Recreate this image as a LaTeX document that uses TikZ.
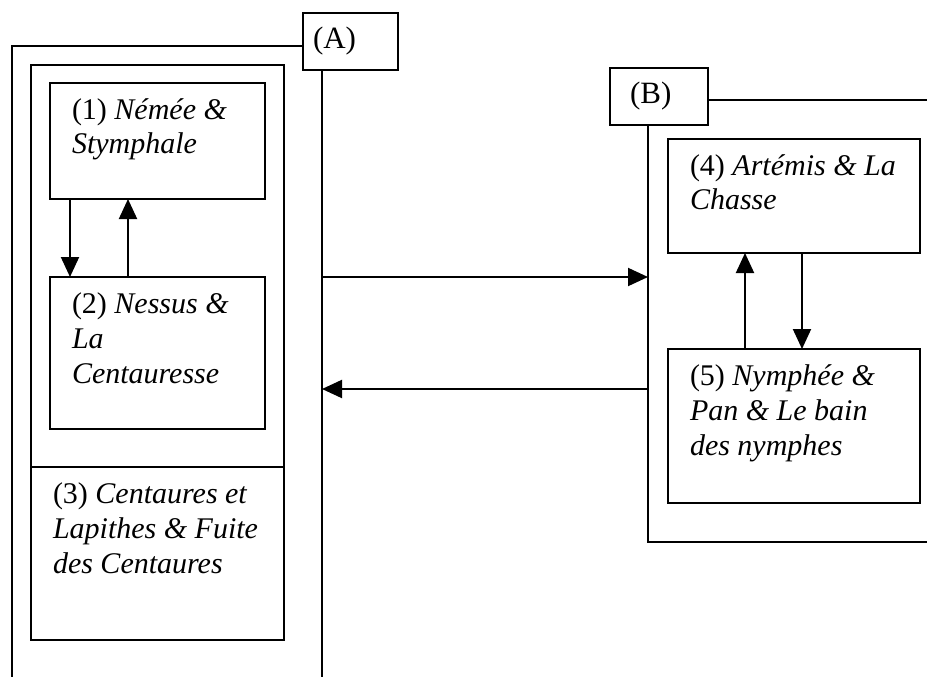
\documentclass[tikz,border=0pt]{standalone}
\usepackage{fontspec}
\setmainfont{Liberation Serif}
\usepackage{tikz}
\usetikzlibrary{arrows.meta}

\newcommand{\boxlines}[1]{\parbox[t]{300pt}{\raggedright #1}}

\begin{document}
\begin{tikzpicture}[x=1pt, y=-1pt, text=black, line width=2pt,
	box/.style={draw, anchor=north west, inner sep=0pt, outer sep=0pt},
	tag/.style={draw, fill=white, align=left, anchor=north west, inner ysep=0pt, outer sep=0pt, minimum height=57pt, font=\fontsize{31}{35}\selectfont},
	txt/.style={anchor=base west, inner sep=0pt, font=\fontsize{30}{35}\selectfont},
	arr/.style={-{Triangle[length=20pt,width=18pt]}}]
	\useasboundingbox (0,0) rectangle (927,677);
	% group (A)
	\node[box, minimum width=310pt, minimum height=634pt] (frameA) at (12,46) {};
	\node[tag, text width=75pt, inner xsep=10pt] (tagA) at (303,13) {(A)};
	\node[box, minimum width=253pt, minimum height=402pt] (inA) at (31,65) {};
	\node[box, minimum width=215pt, minimum height=116pt] (n1) at (50,83) {};
	\node[box, minimum width=215pt, minimum height=152pt] (n2) at (50,277) {};
	\node[box, minimum width=253pt, minimum height=173pt] (n3) at (inA.south west) {};
	\node[txt] (t1) at ([shift={(21,36)}]n1.north west) {\boxlines{(1) \textit{Némée \&}\\\textit{Stymphale}}};
	\node[txt] (t2) at ([shift={(21,36)}]n2.north west) {\boxlines{(2) \textit{Nessus \&}\\\textit{La}\\\textit{Centauresse}}};
	\node[txt] (t3) at ([shift={(21,36)}]n3.north west) {\boxlines{(3) \textit{Centaures et}\\\textit{Lapithes \& Fuite}\\\textit{des Centaures}}};
	\draw[arr] ([xshift=20pt]n1.south west) -- ([xshift=20pt]n2.north west);
	\draw[arr] ([xshift=78pt]n2.north west) -- ([xshift=78pt]n1.south west);
	% group (B)
	\node[box, minimum width=292pt, minimum height=442pt] (frameB) at (648,100) {};
	\node[tag, text width=58pt, inner xsep=20pt] (tagB) at (610,68) {(B)};
	\node[box, minimum width=252pt, minimum height=114pt] (n4) at (668,139) {};
	\node[box, minimum width=252pt, minimum height=154pt] (n5) at (668,349) {};
	\node[txt] (t4) at ([shift={(21,36)}]n4.north west) {\boxlines{(4) \textit{Artémis \& La}\\\textit{Chasse}}};
	\node[txt] (t5) at ([shift={(21,36)}]n5.north west) {\boxlines{(5) \textit{Nymphée \&}\\\textit{Pan \& Le bain}\\\textit{des nymphes}}};
	\draw[arr] ([xshift=77pt]n5.north west) -- ([xshift=77pt]n4.south west);
	\draw[arr] ([xshift=134pt]n4.south west) -- ([xshift=134pt]n5.north west);
	% between the groups
	\coordinate (back) at ([yshift=-40pt]n5.north west);
	\draw[arr] (frameA.east |- n2.north) -- (frameB.west |- n2.north);
	\draw[arr] (frameB.west |- back) -- (frameA.east |- back);
\end{tikzpicture}
\end{document}
